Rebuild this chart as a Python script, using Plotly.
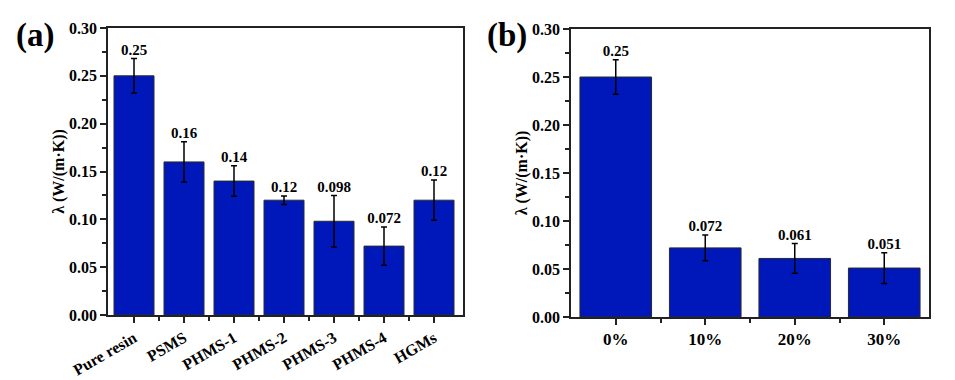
import plotly.graph_objects as go

# Panel (a)
cats_a = ["Pure resin", "PSMS", "PHMS-1", "PHMS-2", "PHMS-3", "PHMS-4", "HGMs"]
vals_a = [0.25, 0.16, 0.14, 0.12, 0.098, 0.072, 0.12]
errs_a = [0.018, 0.021, 0.016, 0.0045, 0.027, 0.020, 0.021]
labels_a = ["0.25", "0.16", "0.14", "0.12", "0.098", "0.072", "0.12"]

# Panel (b)
cats_b = ["0%", "10%", "20%", "30%"]
vals_b = [0.25, 0.072, 0.061, 0.051]
errs_b = [0.018, 0.0135, 0.0155, 0.016]
labels_b = ["0.25", "0.072", "0.061", "0.051"]

yticks = [0.0, 0.05, 0.10, 0.15, 0.20, 0.25, 0.30]

FONT = "Liberation Serif"
BAR = "#0018BA"

# page body has an 8px margin; size the figure to fit inside the window
OFF = 8
W, H = 955 - OFF, 380 - OFF


def px_x(x):
    return (x - OFF) / W


def px_y(y):
    return 1 - (y - OFF) / H


fig = go.Figure()


def add_panel(cats, vals, errs, labels, xa, ya):
    xs = list(range(len(cats)))
    fig.add_trace(go.Bar(
        x=xs, y=vals, width=0.8, xaxis=xa, yaxis=ya,
        marker=dict(color=BAR, line=dict(color="#2a2a2a", width=1)),
        error_y=dict(type="data", array=errs, visible=True, color="black",
                     thickness=1.5, width=3),
        showlegend=False, hoverinfo="skip"))
    fig.add_trace(go.Scatter(
        x=xs, y=[v + e for v, e in zip(vals, errs)], mode="text",
        text=labels, textposition="top center", xaxis=xa, yaxis=ya,
        textfont=dict(family=FONT, size=15, color="black"),
        texttemplate="<b>%{text}</b>",
        showlegend=False, hoverinfo="skip"))


add_panel(cats_a, vals_a, errs_a, labels_a, "x", "y")
add_panel(cats_b, vals_b, errs_b, labels_b, "x2", "y2")

axis_common = dict(showline=True, linecolor="#222", linewidth=1.5, mirror=True,
                   ticks="outside", ticklen=6, tickwidth=1.5, tickcolor="#222",
                   showgrid=False, zeroline=False, automargin=False)

ytitle = dict(text="<b>λ (W/(m·K))</b>", font=dict(family=FONT, size=16, color="black"),
              standoff=0)

minor_y = dict(ticks="outside", ticklen=4, tickwidth=1.5, tickcolor="#222",
               dtick=0.025, tick0=0)

fig.update_layout(
    width=W, height=H,
    margin=dict(l=0, r=0, t=0, b=0, autoexpand=False),
    paper_bgcolor="white", plot_bgcolor="white",
    font=dict(family=FONT, color="black"),
    xaxis=dict(domain=[px_x(108), px_x(463)], range=[-0.52, 6.58], anchor="y",
               tickmode="array", tickvals=list(range(len(cats_a))),
               ticktext=["<b>%s</b>" % c for c in cats_a], tickangle=-30,
               tickfont=dict(family=FONT, size=16, color="black"),
               minor=dict(ticks="outside", ticklen=4, tickwidth=1.5, tickcolor="#222",
                          tickmode="array",
                          tickvals=[i + 0.5 for i in range(len(cats_a) - 1)]),
               **axis_common),
    yaxis=dict(domain=[px_y(315), px_y(28)], range=[0, 0.30], anchor="x",
               tickmode="array", tickvals=yticks,
               ticktext=["<b>%.2f</b>" % t for t in yticks],
               tickfont=dict(family=FONT, size=16, color="black"),
               minor=minor_y, title=ytitle, **axis_common),
    xaxis2=dict(domain=[px_x(571), px_x(929)], range=[-0.5, 3.5], anchor="y2",
                tickmode="array", tickvals=list(range(len(cats_b))),
                ticktext=["<b>%s</b>" % c for c in cats_b], tickangle=0,
                tickfont=dict(family=FONT, size=17, color="black"),
                minor=dict(ticks="outside", ticklen=4, tickwidth=1.5, tickcolor="#222",
                           tickmode="array",
                           tickvals=[i + 0.5 for i in range(len(cats_b) - 1)]),
                **axis_common),
    yaxis2=dict(domain=[px_y(317), px_y(29)], range=[0, 0.30], anchor="x2",
                tickmode="array", tickvals=yticks,
                ticktext=["<b>%.2f</b>" % t for t in yticks],
                tickfont=dict(family=FONT, size=16, color="black"),
                minor=minor_y, title=ytitle, **axis_common),
    annotations=[
        dict(text="<b>(a)</b>", x=px_x(35), y=px_y(35), xref="paper", yref="paper",
             showarrow=False, xanchor="center", yanchor="middle",
             font=dict(family=FONT, size=33, color="black")),
        dict(text="<b>(b)</b>", x=px_x(507), y=px_y(35), xref="paper", yref="paper",
             showarrow=False, xanchor="center", yanchor="middle",
             font=dict(family=FONT, size=33, color="black")),
    ],
)

fig.write_html("out.html")
